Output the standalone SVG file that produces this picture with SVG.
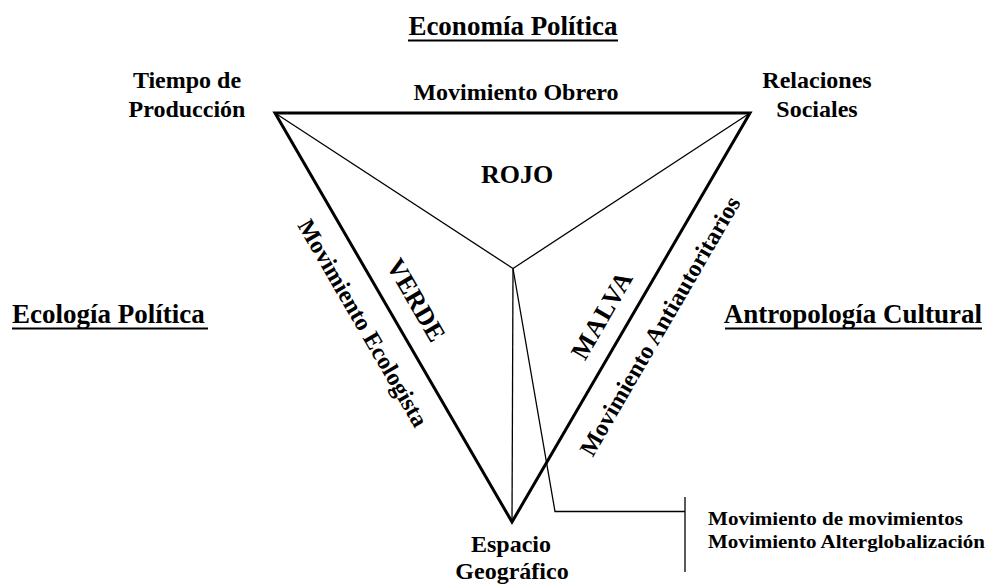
<svg xmlns="http://www.w3.org/2000/svg" width="988" height="586" viewBox="0 0 988 586">
<style>
  text { font-family: "Liberation Serif", "Times New Roman", serif; font-weight: bold; fill: #000; }
  .h { font-size: 27px; }
  .v { font-size: 24px; text-anchor: middle; }
  .e { font-size: 24px; text-anchor: middle; }
  .c { font-size: 26px; text-anchor: middle; }
  .n { font-size: 19px; }
  .thick { fill: none; stroke: #000; stroke-width: 3; stroke-linejoin: miter; }
  .thin { fill: none; stroke: #000; stroke-width: 1.3; }
  .ul { stroke: #000; stroke-width: 2; }
</style>
<rect width="988" height="586" fill="#fff"/>

<g id="headings">
  <g id="economia-politica">
    <text class="h" x="513" y="35" text-anchor="middle">Economía Política</text>
    <line class="ul" x1="408" y1="40.5" x2="618" y2="40.5"/>
  </g>
  <g id="ecologia-politica">
    <text class="h" x="12" y="323">Ecología Política</text>
    <line class="ul" x1="12" y1="328.5" x2="208" y2="328.5"/>
  </g>
  <g id="antropologia-cultural">
    <text class="h" x="982" y="323" text-anchor="end">Antropología Cultural</text>
    <line class="ul" x1="725" y1="328.5" x2="982" y2="328.5"/>
  </g>
</g>

<g id="connectors">
  <polygon id="triangle" class="thick" points="275,113 750,113 512,522"/>
  <line class="thin" x1="275" y1="113" x2="513" y2="268.5"/>
  <line class="thin" x1="750" y1="113" x2="513" y2="268.5"/>
  <line class="thin" x1="513" y1="268.5" x2="512" y2="522"/>
  <polyline class="thin" points="513,268.5 555,511.5 685,511.5"/>
  <line class="thin" x1="685" y1="497" x2="685" y2="572"/>
</g>

<g id="vertex-tiempo">
  <text class="v" x="187" y="88">Tiempo de</text>
  <text class="v" x="187" y="117">Producción</text>
</g>
<g id="vertex-relaciones">
  <text class="v" x="817" y="88">Relaciones</text>
  <text class="v" x="817" y="117">Sociales</text>
</g>
<g id="vertex-espacio">
  <text class="v" x="511" y="552">Espacio</text>
  <text class="v" x="512" y="579">Geográfico</text>
</g>

<g id="edge-obrero">
  <text class="e" x="516" y="100">Movimiento Obrero</text>
</g>
<g id="edge-ecologista">
  <text class="e" transform="translate(363,323) rotate(59.9)" x="0" y="8">Movimiento Ecologista</text>
</g>
<g id="edge-antiautoritarios">
  <text class="e" transform="translate(660,326) rotate(-59.8)" x="0" y="8">Movimiento Antiautoritarios</text>
</g>

<g id="region-rojo">
  <text class="c" x="517" y="183">ROJO</text>
</g>
<g id="region-verde">
  <text class="c" transform="translate(416,300) rotate(59.9)" x="0" y="8.6">VERDE</text>
</g>
<g id="region-malva">
  <text class="c" transform="translate(602,315) rotate(-59.8)" x="0" y="8.6" letter-spacing="1">MALVA</text>
</g>

<g id="callout">
  <text class="n" x="708" y="525" textLength="255" lengthAdjust="spacingAndGlyphs">Movimiento de movimientos</text>
  <text class="n" x="708" y="548" textLength="277" lengthAdjust="spacingAndGlyphs">Movimiento Alterglobalización</text>
</g>
</svg>
